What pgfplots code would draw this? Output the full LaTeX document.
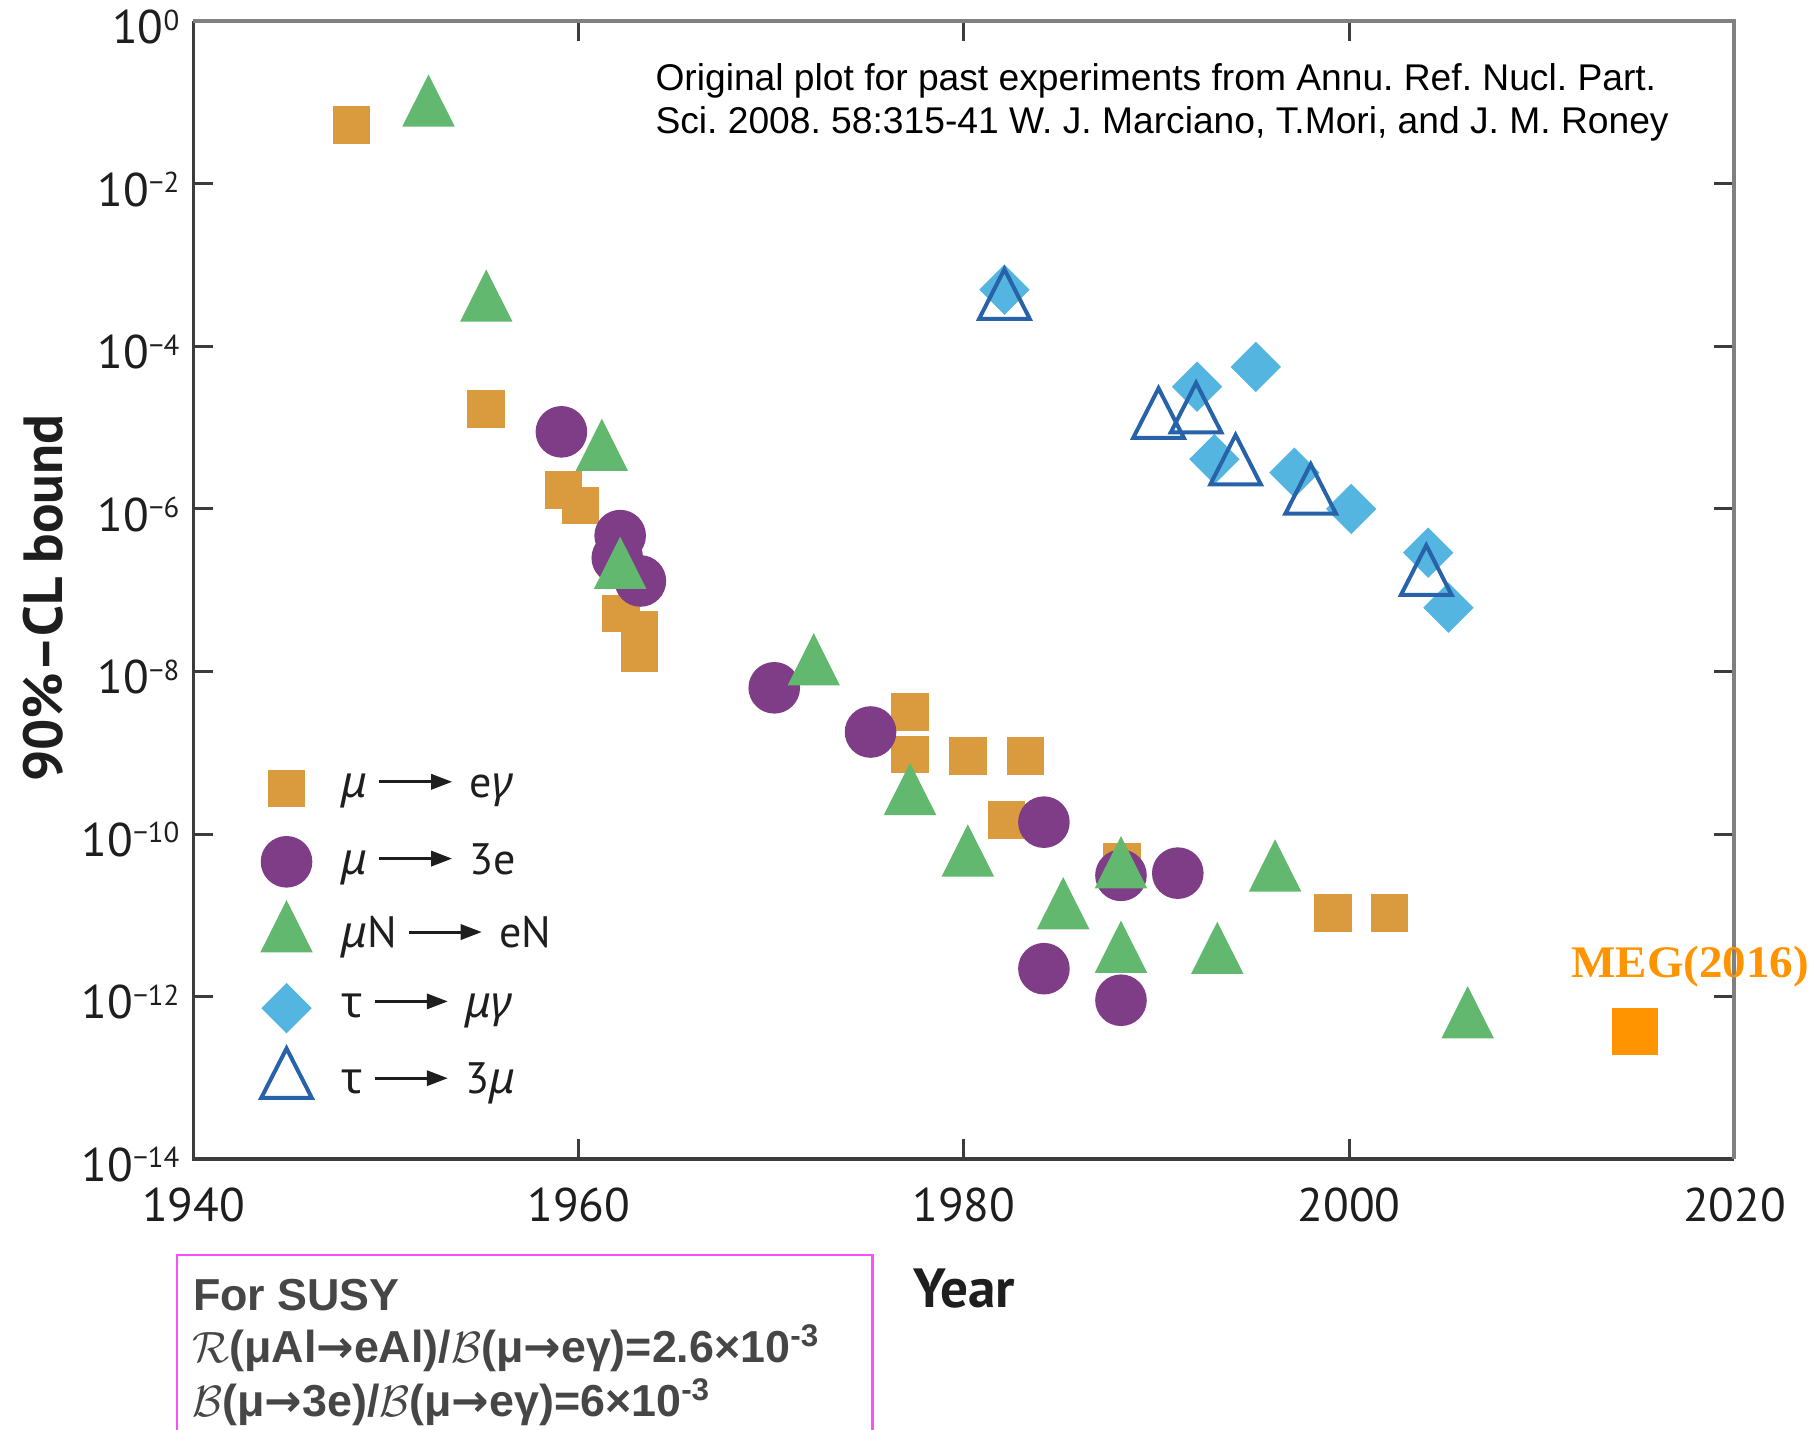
\documentclass[border=0pt]{standalone}
\usepackage{fontspec}
\usepackage{pgfplots}
\pgfplotsset{compat=1.18}
\setmainfont{PT Sans}
\newfontfamily\grk{Noto Sans}
\newfontfamily\helv{Liberation Sans}
\newfontfamily\tms{Liberation Serif}
\newfontfamily\dejavu{DejaVu Sans}
\definecolor{cSq}{RGB}{218,155,62}
\definecolor{cCi}{RGB}{128,61,135}
\definecolor{cTr}{RGB}{99,184,111}
\definecolor{cDi}{RGB}{84,181,224}
\definecolor{cOt}{RGB}{40,98,168}
\definecolor{cMeg}{RGB}{255,148,0}
\definecolor{cBox}{RGB}{250,80,250}
\definecolor{cSusy}{RGB}{70,70,70}
\definecolor{cAxD}{RGB}{60,60,60}
\definecolor{cAxL}{RGB}{128,128,128}
\definecolor{cTxt}{RGB}{30,30,30}
\newcommand\arrowpic{\begin{pgfpicture}%
\pgfsetbaseline{0pt}%
\pgfsetlinewidth{0.75pt}\pgfsetstrokecolor{cTxt}\pgfsetfillcolor{cTxt}%
\pgfpathmoveto{\pgfpoint{0pt}{3.9pt}}\pgfpathlineto{\pgfpoint{14.5pt}{3.9pt}}\pgfusepath{stroke}%
\pgfpathmoveto{\pgfpoint{13pt}{1.9pt}}\pgfpathlineto{\pgfpoint{18.2pt}{3.9pt}}\pgfpathlineto{\pgfpoint{13pt}{5.9pt}}\pgfpathclose\pgfusepath{fill}%
\end{pgfpicture}}
\newcommand\larr{\hspace{2.5pt}\arrowpic\hspace{4.5pt}}
\newcommand\gi[1]{{\grk\itshape #1}}
\newcommand\sarr{{\dejavu\bfseries →}}
\newcommand\sups[1]{\raisebox{3.4pt}{\fontsize{7.2}{8}\selectfont #1}}
\frenchspacing
\begin{document}
\begin{tikzpicture}
\begin{axis}[
  at={(0,0)}, anchor=south west,
  scale only axis, width=385.25pt, height=284.4pt,
  xmin=1940, xmax=2020, ymode=log, ymin=1e-14, ymax=1,
  xtick={1940,1960,1980,2000,2020},
  xticklabels={1940,1960,1980,2000,2020},
  ytick={1,1e-2,1e-4,1e-6,1e-8,1e-10,1e-12,1e-14},
  yticklabels={10\sups{0},10\sups{−2},10\sups{−4},10\sups{−6},10\sups{−8},10\sups{−10},10\sups{−12},10\sups{−14}},
  xminorticks=false, yminorticks=false,
  tick align=inside, major tick length=5pt,
  tick style={color=cAxD, line width=0.75pt},
  axis line style={draw=none},
  ticklabel style={font=\fontsize{11.8}{13}\selectfont, text=cTxt},
  xticklabel style={yshift=-3.6pt},
  yticklabel style={yshift=-1.4pt},
  clip=false,
  xlabel={Year},
  ylabel={90\%–CL bound},
  xlabel style={at={(axis description cs:0.5,-0.1142)}, anchor=center, font=\bfseries\fontsize{13.8}{15}\selectfont, text=cTxt},
  ylabel style={at={(axis description cs:-0.0976,0.493)}, anchor=center, font=\bfseries\fontsize{13.8}{15}\selectfont, text=cTxt},
  legend cell align=left,
  legend image code/.code={\path[draw=none,fill=none] (-9pt,-9.15pt) rectangle (11.8pt,9.15pt); \draw[#1,only marks] plot coordinates {(0pt,0pt)};},
  legend style={draw=none, fill=none, inner sep=0pt, row sep=0pt, column sep=0pt,
    at={(axis description cs:0.0365,0.3585)}, anchor=north west,
    nodes={inner sep=2pt, text depth=0.15em, text=cTxt, font=\fontsize{11}{12}\selectfont}},
]
\addplot[only marks, mark=square*, color=cSq, mark size=4.5pt] coordinates {
(1948.2,5.3e-2) (1955.2,1.7e-5) (1959.2,1.7e-6) (1960.1,1.1e-6) (1962.2,5.2e-8)
(1963.15,3.3e-8) (1963.15,1.7e-8) (1977.2,3.2e-9) (1977.2,9.5e-10) (1980.2,9.1e-10)
(1983.2,9.1e-10) (1982.2,1.5e-10) (1988.2,4.5e-11) (1999.15,1.07e-11) (2002.1,1.07e-11)};
\addlegendentry{\gi{μ}\larr e\gi{γ}}
\addplot[only marks, mark=*, color=cCi, mark size=6.25pt] coordinates {
(1959.1,8.9e-6) (1962.15,4.7e-7) (1962.0,2.5e-7) (1963.2,1.3e-7) (1970.15,6.3e-9)
(1975.15,1.8e-9) (1984.15,1.4e-10) (1988.15,3.1e-11) (1991.1,3.3e-11) (1984.15,2.2e-12)
(1988.15,9.0e-13)};
\addlegendentry{\gi{μ}\larr 3e}
\addplot[only marks, mark=triangle*, color=cTr, mark size=7.2pt, mark options={yscale=1.15}] coordinates {
(1952.2,8.3e-2) (1955.2,3.3e-4) (1961.2,4.8e-6) (1962.15,1.7e-7) (1972.2,1.1e-8)
(1977.2,2.8e-10) (1980.2,4.9e-11) (1985.15,1.1e-11) (1988.15,3.5e-11) (1988.15,3.2e-12)
(1993.15,3.1e-12) (1996.15,3.2e-11) (2006.15,5.0e-13)};
\addlegendentry{\gi{μ}N\larr eN}
\addplot[only marks, mark=square*, color=cDi, mark size=4.25pt, mark options={rotate=45}] coordinates {
(1982.1,5.0e-4) (1992.1,3.2e-5) (1995.15,5.6e-5) (1993.0,4.1e-6) (1997.15,2.8e-6)
(2000.1,1.0e-6) (2004.1,2.9e-7) (2005.15,6.1e-8)};
\addlegendentry{{\grk τ}\larr\gi{μγ}}
\addplot[only marks, mark=triangle, color=cOt, mark size=7.3pt, mark options={yscale=1.13, line width=1pt}] coordinates {
(1982.1,3.5e-4) (1990.1,1.2e-5) (1992.05,1.4e-5) (1994.1,3.2e-6) (1998.0,1.4e-6) (2004.0,1.4e-7)};
\addlegendentry{{\grk τ}\larr 3\gi{μ}}
\addplot[only marks, mark=square*, color=cMeg, mark size=5.6pt, forget plot] coordinates {(2014.85,3.7e-13)};
\draw[cAxD, line width=0.8pt] (rel axis cs:0,1) -- (rel axis cs:0,0) -- (rel axis cs:1,0);
\draw[cAxL, line width=1pt] (rel axis cs:0,1) -- (rel axis cs:1,1) -- (rel axis cs:1,0);
\end{axis}
\pgfresetboundingbox
\path[use as bounding box] (-48.375pt,-67.5pt) rectangle (405.875pt,289.75pt);
% annotation
\node[anchor=base west, inner sep=0pt, font=\helv\fontsize{9.3}{11}\selectfont, text=black] at (115.3pt,267.25pt) {Original plot for past experiments from Annu. Ref. Nucl. Part.};
\node[anchor=base west, inner sep=0pt, font=\helv\fontsize{9.3}{11}\selectfont, text=black] at (115.3pt,256.5pt) {Sci. 2008. 58:315-41 W. J. Marciano, T.Mori, and J. M. Roney};
% MEG label
\node[anchor=base west, inner sep=0pt, font=\tms\bfseries\fontsize{11.3}{13}\selectfont, text=cMeg] at (344.3pt,45.3pt) {\scalebox{1.04}[1]{MEG(2016)}};
% SUSY box
\draw[cBox, line width=0.6pt] (-4.125pt,-90pt) -- (-4.125pt,-24pt) -- (169.75pt,-24pt) -- (169.75pt,-90pt);
\node[anchor=base west, inner sep=0pt, font=\helv\bfseries\fontsize{11.2}{12}\selectfont, text=cSusy] at (-0.3pt,-37.75pt) {For SUSY};
\node[anchor=base west, inner sep=0pt, font=\helv\bfseries\fontsize{11.2}{12}\selectfont, text=cSusy] at (-0.5pt,-50.75pt) {$\mathcal{R}$(μAl\sarr eAl)/$\mathcal{B}$(μ\sarr eγ)=2.6×10\textsuperscript{-3}};
\node[anchor=base west, inner sep=0pt, font=\helv\bfseries\fontsize{11.2}{12}\selectfont, text=cSusy] at (-0.5pt,-64.25pt) {$\mathcal{B}$(μ\sarr 3e)/$\mathcal{B}$(μ\sarr eγ)=6×10\textsuperscript{-3}};
\end{tikzpicture}
\end{document}
